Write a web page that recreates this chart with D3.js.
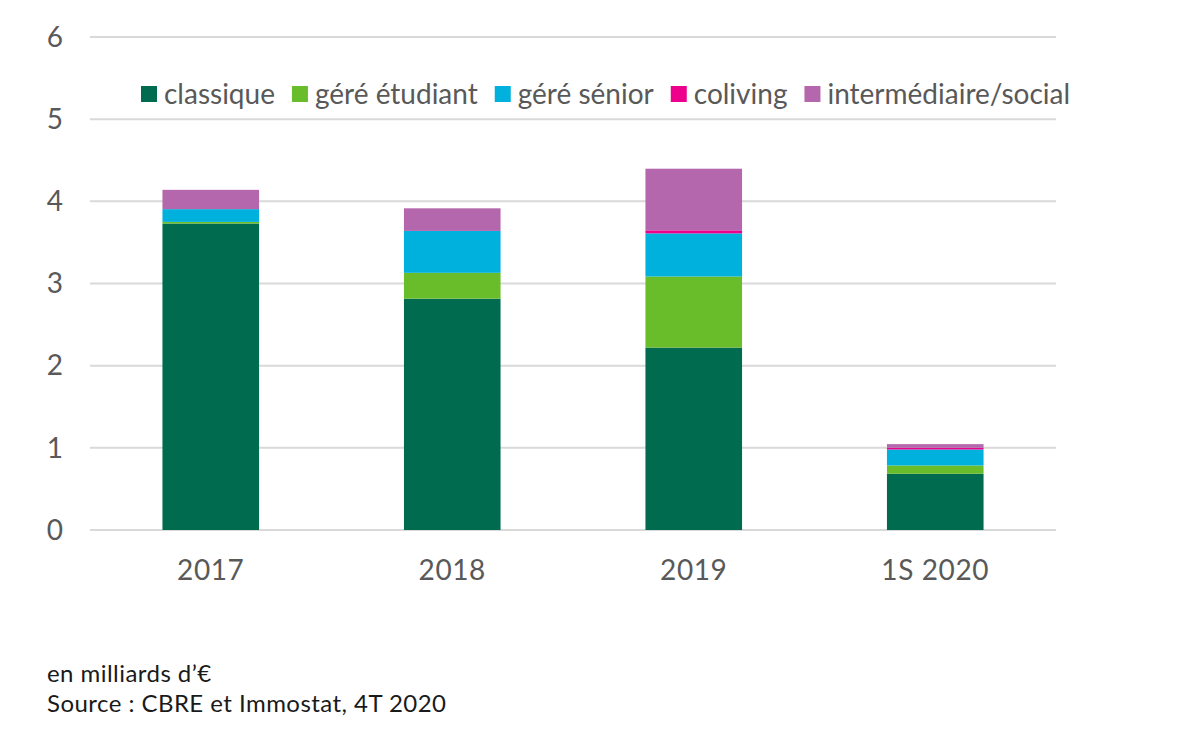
<!DOCTYPE html>
<html><head><meta charset="utf-8">
<script src="https://cdn.jsdelivr.net/npm/d3@7"></script>
<style>body{margin:0;background:#fff;} text{font-family:"Lato","Noto Sans",sans-serif;}</style>
</head><body>
<svg id="chart" width="1192" height="744"></svg>
<script>
const categories = ["2017", "2018", "2019", "1S 2020"];
const seriesNames = ["classique", "géré étudiant", "géré sénior", "coliving", "intermédiaire/social"];
const seriesColors = ["#006b4e", "#6abd2a", "#00b0dd", "#ec008c", "#b467ad"];
const classique = [3.73, 2.815, 2.22, 0.685];
const gereEtudiant = [0.02, 0.315, 0.865, 0.10];
const gereSenior = [0.155, 0.51, 0.525, 0.195];
const coliving = [0.0, 0.0, 0.037, 0.02];
const intermediaire = [0.235, 0.275, 0.75, 0.045];
const yTicks = [0, 1, 2, 3, 4, 5, 6];
const noteLines = ["en milliards d’€", "Source : CBRE et Immostat, 4T 2020"];

const seriesValues = [classique, gereEtudiant, gereSenior, coliving, intermediaire];
const data = categories.map((c, i) => {
  const o = {cat: c};
  seriesNames.forEach((s, j) => o[s] = seriesValues[j][i]);
  return o;
});

const svg = d3.select("#chart");
const mLeft = 90, mRight = 1056, mTop = 37, mBottom = 530;
const x = d3.scaleBand().domain(categories).range([mLeft, mRight]).paddingInner(0.6).paddingOuter(0.3);
const y = d3.scaleLinear().domain([0, 6]).range([mBottom, mTop]);

// gridlines
svg.append("g").selectAll("line").data(yTicks).join("line")
  .attr("x1", mLeft).attr("x2", mRight)
  .attr("y1", d => y(d)).attr("y2", d => y(d))
  .attr("stroke", "#d9d9d9").attr("stroke-width", 2);

// y labels
svg.append("g").selectAll("text").data(yTicks).join("text")
  .attr("x", 63).attr("y", d => y(d)).attr("dy", "0.35em")
  .attr("text-anchor", "end").attr("fill", "#595959").attr("font-size", 28)
  .text(d => d);

// bars
const stack = d3.stack().keys(seriesNames)(data);
svg.append("g").selectAll("g").data(stack).join("g")
  .attr("fill", (d, i) => seriesColors[i])
  .selectAll("rect").data(d => d).join("rect")
  .attr("x", d => x(d.data.cat)).attr("width", x.bandwidth())
  .attr("y", d => y(d[1])).attr("height", d => Math.max(0, y(d[0]) - y(d[1])));

// x labels
svg.append("g").selectAll("text").data(categories).join("text")
  .attr("x", d => x(d) + x.bandwidth() / 2).attr("y", 570).attr("dy", "0.35em")
  .attr("text-anchor", "middle").attr("fill", "#595959").attr("font-size", 28)
  .attr("letter-spacing", 0.6)
  .text(d => d);

// legend
const lg = svg.append("g");
let lx = 141;
seriesNames.forEach((s, i) => {
  lg.append("rect").attr("x", lx).attr("y", 86).attr("width", 16).attr("height", 16).attr("fill", seriesColors[i]);
  const t = lg.append("text").attr("x", lx + 23).attr("y", 94).attr("dy", "0.35em")
    .attr("fill", "#595959").attr("font-size", 28).text(s);
  lx += 23 + t.node().getComputedTextLength() + 17;
});

// notes
svg.append("g").selectAll("text").data(noteLines).join("text")
  .attr("x", 47).attr("y", (d, i) => 682 + i * 30)
  .attr("fill", "#1a1a1a").attr("font-size", 24).attr("letter-spacing", 0.45).text(d => d);
</script>
</body></html>
